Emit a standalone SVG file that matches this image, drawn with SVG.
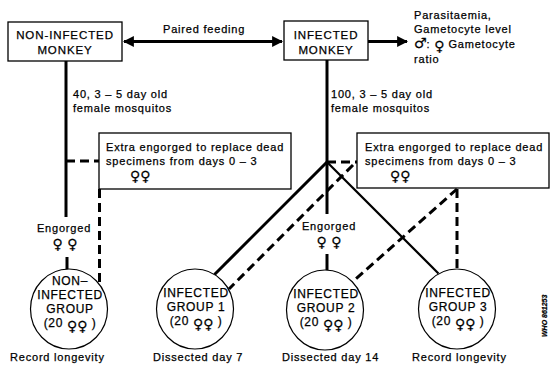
<svg xmlns="http://www.w3.org/2000/svg" width="551" height="371" viewBox="0 0 551 371">
<defs>
<style>
text{font-family:"Liberation Sans","DejaVu Sans",Arial,sans-serif;fill:#000;stroke:#000;stroke-width:0.25px;}
.t{font-size:11px;letter-spacing:0.8px;}
.b{font-size:11.5px;letter-spacing:0.9px;text-anchor:middle;}
.c{font-size:12px;letter-spacing:0.7px;text-anchor:middle;}
.m{text-anchor:middle;}
.sym{font-family:"DejaVu Sans",sans-serif;font-size:14px;letter-spacing:0px;}
.box{fill:#fff;stroke:#000;stroke-width:1.3;}
.circ{fill:#fff;stroke:#000;stroke-width:1.2;}
.solid{stroke:#000;stroke-width:3;fill:none;}
.thin{stroke:#000;stroke-width:2.2;fill:none;}
.dash{stroke:#000;stroke-width:3;fill:none;stroke-dasharray:9 5;}
</style>
<marker id="ah" viewBox="0 0 10 10" refX="9" refY="5" markerWidth="11" markerHeight="11" markerUnits="userSpaceOnUse" orient="auto-start-reverse">
<path d="M0,0 L10,5 L0,10 Z" fill="#000"/>
</marker>
</defs>
<rect width="551" height="371" fill="#fff"/>

<g id="connectors">
<line class="solid" x1="124" y1="41.5" x2="282" y2="41.5" marker-start="url(#ah)" marker-end="url(#ah)"/>
<line class="solid" x1="368" y1="41.5" x2="407" y2="41.5" marker-end="url(#ah)"/>
<line class="solid" x1="66" y1="61" x2="66" y2="217"/>
<line class="solid" x1="327" y1="60" x2="327" y2="214"/>
<line class="solid" x1="327" y1="162" x2="214.5" y2="274.5"/>
<line class="thin" x1="327" y1="162" x2="438.5" y2="273.5"/>
<line class="solid" x1="67" y1="257" x2="67" y2="270"/>
<line class="solid" x1="327" y1="254" x2="327" y2="270"/>
<line class="dash" x1="66" y1="161" x2="99" y2="161"/>
<line class="dash" x1="99.5" y1="189" x2="99.5" y2="285"/>
<line class="dash" x1="327" y1="162" x2="357" y2="162"/>
<line class="dash" x1="353" y1="165" x2="229" y2="289"/>
<line class="dash" x1="457" y1="189" x2="353" y2="281.5"/>
<line class="dash" x1="457" y1="189" x2="457" y2="269"/>
</g>

<g id="non-infected-monkey">
<rect class="box" x="8" y="22" width="114" height="39"/>
<text class="b" x="65" y="39">NON-INFECTED</text>
<text class="b" x="65" y="54">MONKEY</text>
</g>

<g id="infected-monkey">
<rect class="box" x="284" y="21" width="84" height="39"/>
<text class="b" x="326" y="38.5">INFECTED</text>
<text class="b" x="326" y="53.5">MONKEY</text>
</g>

<g id="labels">
<text class="t" x="163" y="33">Paired feeding</text>
<text class="t" x="414" y="19">Parasitaemia,</text>
<text class="t" x="414" y="33">Gametocyte level</text>
<text class="t" x="414" y="48"><tspan class="sym" font-size="15">♂&#xFE0E;</tspan>: <tspan class="sym" dy="3">♀&#xFE0E;</tspan><tspan dy="-3"> Gametocyte</tspan></text>
<text class="t" x="414" y="63">ratio</text>
<text class="t" x="73" y="98">40, 3 – 5 day old</text>
<text class="t" x="73" y="112">female mosquitos</text>
<text class="t" x="331" y="98">100, 3 – 5 day old</text>
<text class="t" x="331" y="112">female mosquitos</text>
<text class="t m" x="64" y="232">Engorged</text>
<text class="t m" x="65" y="249"><tspan class="sym">♀&#xFE0E; ♀&#xFE0E;</tspan></text>
<text class="t m" x="329" y="230">Engorged</text>
<text class="t m" x="329" y="247"><tspan class="sym">♀&#xFE0E; ♀&#xFE0E;</tspan></text>
<text class="t" x="10" y="361">Record longevity</text>
<text class="t" x="153" y="361">Dissected day 7</text>
<text class="t" x="282" y="361">Dissected day 14</text>
<text class="t" x="412" y="361">Record longevity</text>
<text x="547" y="337" font-size="7" font-style="italic" font-weight="bold" transform="rotate(-90 547 337)">WHO 861253</text>
</g>

<g id="extra-left">
<rect class="box" x="99" y="133" width="192" height="56"/>
<text class="t" x="106" y="151">Extra engorged to replace dead</text>
<text class="t" x="106" y="165">specimens from days 0 – 3</text>
<text class="t" x="130" y="181"><tspan class="sym">♀&#xFE0E;♀&#xFE0E;</tspan></text>
</g>

<g id="extra-right">
<rect class="box" x="357" y="133" width="192" height="55"/>
<text class="t" x="365" y="151">Extra engorged to replace dead</text>
<text class="t" x="365" y="165">specimens from days 0 – 3</text>
<text class="t" x="390" y="181"><tspan class="sym">♀&#xFE0E;♀&#xFE0E;</tspan></text>
</g>

<g id="non-infected-group">
<ellipse class="circ" cx="69" cy="309" rx="38.5" ry="40"/>
<text class="c" x="70" y="285">NON–</text>
<text class="c" x="70" y="299">INFECTED</text>
<text class="c" x="70" y="313">GROUP</text>
<text class="c" x="70" y="327">(20 <tspan class="sym" dy="4">♀&#xFE0E;♀&#xFE0E;</tspan><tspan dy="-4"> )</tspan></text>
</g>

<g id="infected-group-1">
<ellipse class="circ" cx="195" cy="309" rx="38.5" ry="40"/>
<text class="c" x="196" y="297">INFECTED</text>
<text class="c" x="196" y="311">GROUP 1</text>
<text class="c" x="196" y="325">(20 <tspan class="sym" dy="4">♀&#xFE0E;♀&#xFE0E;</tspan><tspan dy="-4"> )</tspan></text>
</g>

<g id="infected-group-2">
<ellipse class="circ" cx="325" cy="310" rx="38.5" ry="40"/>
<text class="c" x="326" y="298">INFECTED</text>
<text class="c" x="326" y="312">GROUP 2</text>
<text class="c" x="326" y="326">(20 <tspan class="sym" dy="4">♀&#xFE0E;♀&#xFE0E;</tspan><tspan dy="-4"> )</tspan></text>
</g>

<g id="infected-group-3">
<ellipse class="circ" cx="457" cy="309" rx="38.5" ry="40"/>
<text class="c" x="458" y="297">INFECTED</text>
<text class="c" x="458" y="311">GROUP 3</text>
<text class="c" x="458" y="325">(20 <tspan class="sym" dy="4">♀&#xFE0E;♀&#xFE0E;</tspan><tspan dy="-4"> )</tspan></text>
</g>
</svg>
